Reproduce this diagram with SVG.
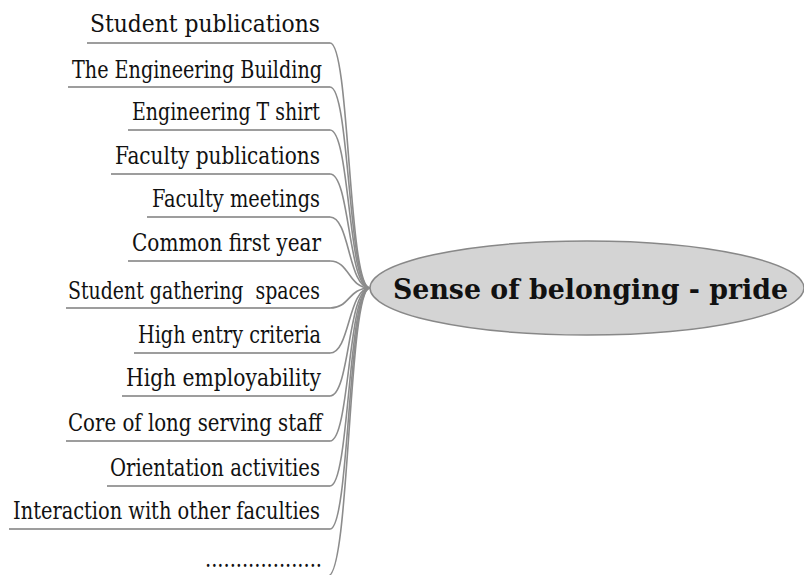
<svg xmlns="http://www.w3.org/2000/svg" width="804" height="575" viewBox="0 0 804 575">
  <style>
    .lbl { font-family: "DejaVu Serif Condensed", "DejaVu Serif", serif; font-size: 25px; fill: #111; }
    .ul { stroke: #7c7c7c; stroke-width: 1.6; fill: none; }
    .br { stroke: #8c8c8c; stroke-width: 1.6; fill: none; }
    .hub { fill: #d4d4d4; stroke: #888; stroke-width: 1.5; }
    .hubtxt { font-family: "DejaVu Serif", "Liberation Serif", serif; font-weight: bold; font-size: 27px; fill: #111; }
  </style>

  <!-- branches from the central topic to each underline -->
  <g id="connectors">
    <path class="br" d="M330 43 C350 43 348 288 370 288"/>
    <path class="br" d="M330 87 C350 87 348 288 370 288"/>
    <path class="br" d="M330 130 C350 130 348 288 370 288"/>
    <path class="br" d="M330 174 C350 174 348 288 370 288"/>
    <path class="br" d="M330 217 C350 217 348 288 370 288"/>
    <path class="br" d="M330 261 C350 261 348 288 370 288"/>
    <path class="br" d="M330 308 C350 308 348 288 370 288"/>
    <path class="br" d="M330 353 C350 353 348 288 370 288"/>
    <path class="br" d="M330 396 C350 396 348 288 370 288"/>
    <path class="br" d="M330 441 C350 441 348 288 370 288"/>
    <path class="br" d="M330 486 C350 486 348 288 370 288"/>
    <path class="br" d="M330 529 C350 529 348 288 370 288"/>
    <path class="br" d="M328 576 C350 576 348 288 370 288"/>
  </g>

  <g id="hub">
    <ellipse class="hub" cx="587" cy="288" rx="217" ry="47"/>
    <text class="hubtxt" x="393" y="299" textLength="395" lengthAdjust="spacingAndGlyphs">Sense of belonging - pride</text>
  </g>

  <g id="n1"><path class="ul" d="M87 43 H330"/><text class="lbl" x="90" y="32" textLength="230" lengthAdjust="spacingAndGlyphs">Student publications</text></g>
  <g id="n2"><path class="ul" d="M68 87 H330"/><text class="lbl" x="72" y="78" textLength="250" lengthAdjust="spacingAndGlyphs">The Engineering Building</text></g>
  <g id="n3"><path class="ul" d="M128 130 H330"/><text class="lbl" x="132" y="120" textLength="188" lengthAdjust="spacingAndGlyphs">Engineering T shirt</text></g>
  <g id="n4"><path class="ul" d="M111 174 H330"/><text class="lbl" x="115" y="164" textLength="205" lengthAdjust="spacingAndGlyphs">Faculty publications</text></g>
  <g id="n5"><path class="ul" d="M147 217 H330"/><text class="lbl" x="152" y="207" textLength="168" lengthAdjust="spacingAndGlyphs">Faculty meetings</text></g>
  <g id="n6"><path class="ul" d="M128 261 H330"/><text class="lbl" x="132" y="251" textLength="189" lengthAdjust="spacingAndGlyphs">Common first year</text></g>
  <g id="n7"><path class="ul" d="M66 308 H330"/><text class="lbl" x="68" y="299" textLength="252" lengthAdjust="spacingAndGlyphs" xml:space="preserve">Student gathering  spaces</text></g>
  <g id="n8"><path class="ul" d="M134 353 H330"/><text class="lbl" x="138" y="343" textLength="183" lengthAdjust="spacingAndGlyphs">High entry criteria</text></g>
  <g id="n9"><path class="ul" d="M122 396 H330"/><text class="lbl" x="126" y="386" textLength="195" lengthAdjust="spacingAndGlyphs">High employability</text></g>
  <g id="n10"><path class="ul" d="M66 441 H330"/><text class="lbl" x="68" y="431" textLength="254" lengthAdjust="spacingAndGlyphs">Core of long serving staff</text></g>
  <g id="n11"><path class="ul" d="M107 486 H330"/><text class="lbl" x="110" y="476" textLength="210" lengthAdjust="spacingAndGlyphs">Orientation activities</text></g>
  <g id="n12"><path class="ul" d="M9 529 H330"/><text class="lbl" x="13" y="519" textLength="307" lengthAdjust="spacingAndGlyphs">Interaction with other faculties</text></g>
  <g id="n13"><text class="lbl" x="205" y="567" textLength="117" lengthAdjust="spacingAndGlyphs">...................</text></g>
</svg>
